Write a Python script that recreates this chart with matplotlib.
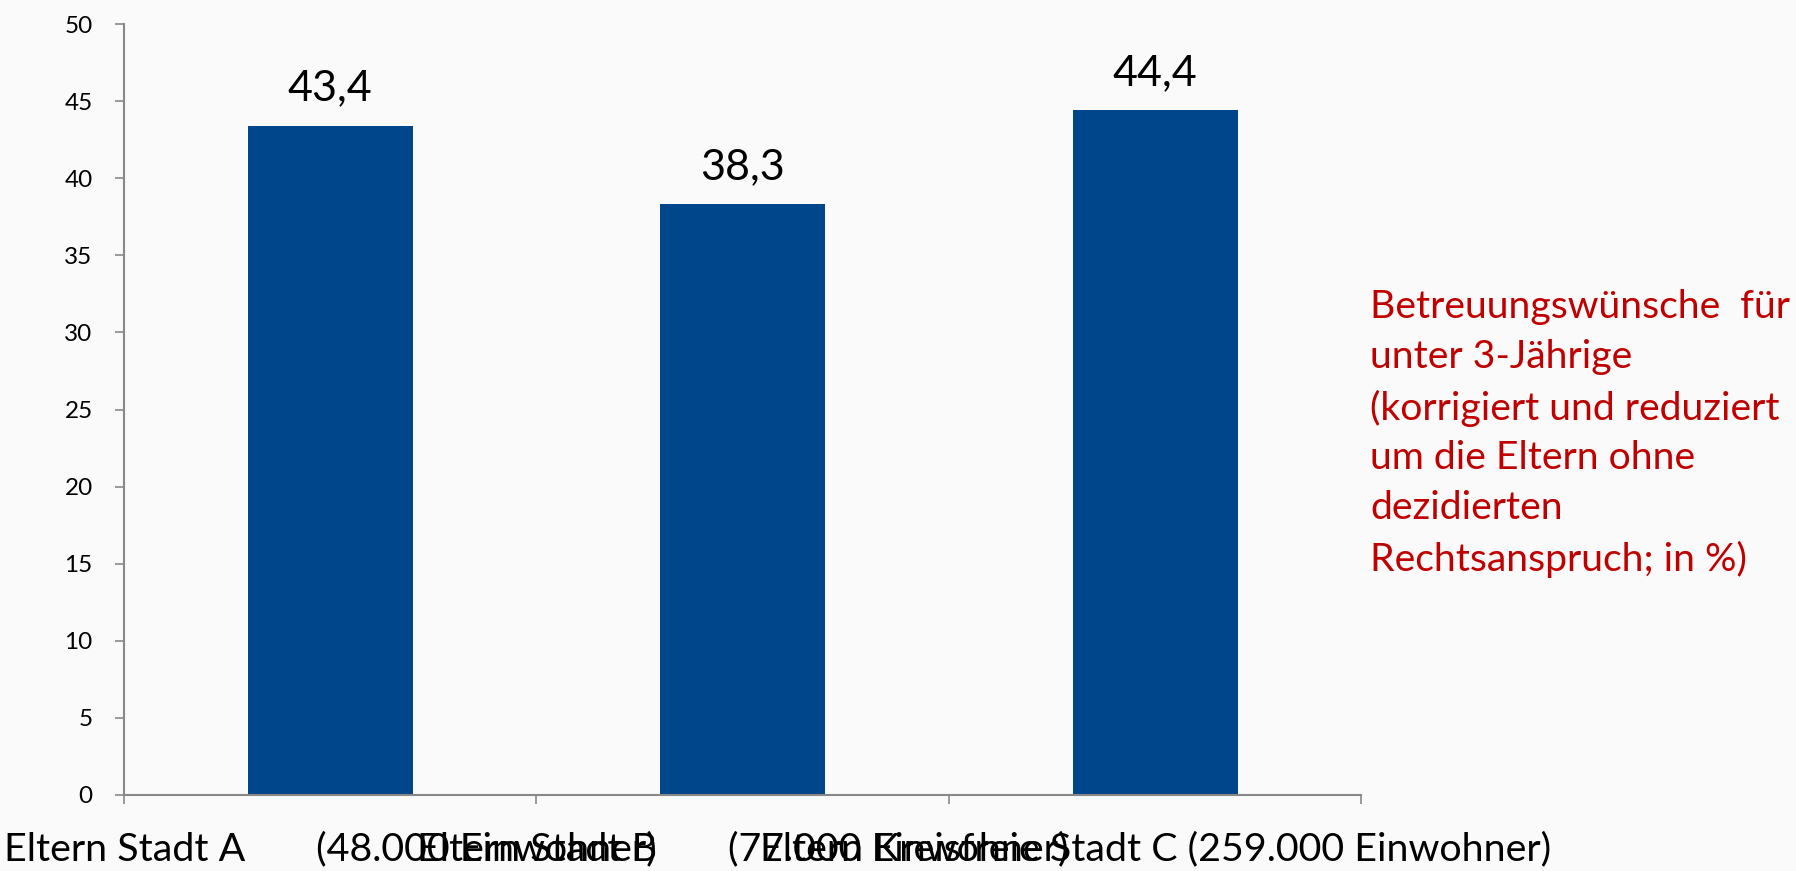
import matplotlib.pyplot as plt
from matplotlib.ticker import FixedLocator

categories = ["Eltern Stadt A       (48.000 Einwohner)",
              "Eltern Stadt B       (77.000 Einwohner)",
              "Eltern Kreisfreie Stadt C (259.000 Einwohner)"]
values = [43.4, 38.3, 44.4]
value_labels = ["43,4", "38,3", "44,4"]
yticks = [0, 5, 10, 15, 20, 25, 30, 35, 40, 45, 50]
note = ("Betreuungswünsche  für\nunter 3-Jährige\n(korrigiert und reduziert\n"
        "um die Eltern ohne\ndezidierten\nRechtsanspruch; in %)")

plt.rcParams['font.family'] = ['Lato', 'DejaVu Sans']

fig = plt.figure(figsize=(17.96, 8.71), dpi=100, facecolor='#fafafa')
ax = fig.add_axes([0.069, 0.0873, 0.689, 0.8851], facecolor='#fafafa')

x = list(range(len(values)))
ax.bar(x, values, width=0.4, color='#00468b', zorder=2)
for xi, v, lab in zip(x, values, value_labels):
    ax.annotate(lab, (xi, v), xytext=(0, 27), textcoords='offset points',
                ha='center', va='center', fontsize=31, color='black')

ax.set_xlim(-0.5, 2.5)
ax.set_ylim(0, 50)
ax.set_yticks(yticks)
ax.tick_params(axis='y', labelsize=17.5, length=6.5, width=1.2, color='#888888', pad=16)
ax.set_xticks(x)
ax.set_xticklabels(categories, fontsize=28.4)
ax.tick_params(axis='x', length=0, pad=26)
ax.xaxis.set_minor_locator(FixedLocator([-0.5, 0.5, 1.5, 2.5]))
ax.tick_params(axis='x', which='minor', length=6.5, width=1.2, color='#888888')

for s in ['top', 'right']:
    ax.spines[s].set_visible(False)
for s in ['left', 'bottom']:
    ax.spines[s].set_color('#888888')
    ax.spines[s].set_linewidth(1.5)

fig.text(0.763, 0.5023, note, color='#c00000', fontsize=28.2, ha='left', va='center',
         linespacing=1.48)

fig.savefig('out.png', dpi=100, facecolor='#fafafa')
